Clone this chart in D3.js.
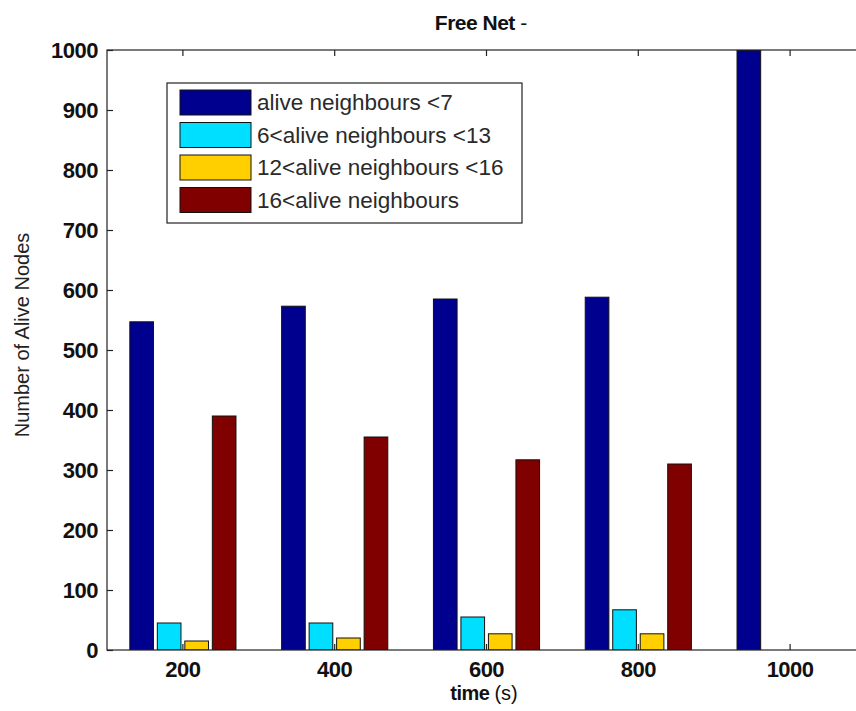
<!DOCTYPE html>
<html>
<head>
<meta charset="utf-8">
<script src="https://cdn.jsdelivr.net/npm/d3@7"></script>
<style>
body { margin: 0; background: #fff; }
svg { display: block; }
.tick text { font-family: "Liberation Sans", Arial, sans-serif; font-weight: bold; font-size: 22px; fill: #111; letter-spacing: -0.5px; }
.tick line { stroke: #222; }
.domain { display: none; }
</style>
</head>
<body>
<script>
var categories = ['200', '400', '600', '800', '1000'];
var seriesNames = ['alive neighbours <7', '6<alive neighbours <13', '12<alive neighbours <16', '16<alive neighbours'];
var aliveLt7 = [547, 573, 585, 588, 1000];
var alive6to13 = [45, 45, 55, 67, 0];
var alive12to16 = [15, 20, 27, 27, 0];
var aliveGt16 = [390, 355, 317, 310, 0];
var yTicks = [0, 100, 200, 300, 400, 500, 600, 700, 800, 900, 1000];
var seriesColors = ['#00008f', '#00dfff', '#ffcf00', '#800000'];

var chartWidth = 856;
var chartHeight = 711;
// plot box, right edge falls outside the window like in the original
var plotLeft = 107, plotRight = 866, plotTop = 50, plotBottom = 650;

var series = [aliveLt7, alive6to13, alive12to16, aliveGt16];

var svg = d3.select('body').append('svg')
    .attr('width', chartWidth)
    .attr('height', chartHeight);

var x0 = d3.scaleBand().domain(categories).range([plotLeft, plotRight]).padding(0);
var x1 = d3.scaleBand().domain(d3.range(series.length))
    .range([x0.bandwidth() / 2 - 55, x0.bandwidth() / 2 + 55])
    .paddingInner(0.14).paddingOuter(0.07);
var y = d3.scaleLinear().domain([0, 1000]).range([plotBottom, plotTop]);

//clip so bars don't spill over the box
svg.append('clipPath').attr('id', 'plotclip')
    .append('rect').attr('x', plotLeft).attr('y', plotTop)
    .attr('width', plotRight - plotLeft).attr('height', plotBottom - plotTop);

var groups = svg.append('g').attr('clip-path', 'url(#plotclip)')
    .selectAll('g').data(categories).enter().append('g')
    .attr('transform', function (d) { return 'translate(' + x0(d) + ',0)'; });

groups.selectAll('rect')
    .data(function (d, i) {
        return series.map(function (s, k) { return {k: k, v: s[i]}; })
            .filter(function (b) { return b.v > 0; });
    })
    .enter().append('rect')
    .attr('x', function (d) { return x1(d.k); })
    .attr('width', x1.bandwidth())
    .attr('y', function (d) { return y(d.v); })
    .attr('height', function (d) { return y(0) - y(d.v); })
    .attr('fill', function (d) { return seriesColors[d.k]; })
    .attr('stroke', '#111')
    .attr('stroke-width', 1);

// box around the axes
svg.append('rect')
    .attr('x', plotLeft).attr('y', plotTop)
    .attr('width', plotRight - plotLeft).attr('height', plotBottom - plotTop)
    .attr('fill', 'none').attr('stroke', '#222').attr('stroke-width', 1.2);

// axes, ticks pointing inward like matlab
svg.append('g').attr('transform', 'translate(0,' + plotBottom + ')')
    .call(d3.axisBottom(x0).tickSize(-6).tickPadding(11));
svg.append('g').attr('transform', 'translate(0,' + plotTop + ')')
    .call(d3.axisTop(x0).tickSize(-6).tickFormat(''));
svg.append('g').attr('transform', 'translate(' + plotLeft + ',0)')
    .call(d3.axisLeft(y).tickValues(yTicks).tickSize(-6).tickPadding(9).tickFormat(d3.format('d')));
svg.append('g').attr('transform', 'translate(' + plotRight + ',0)')
    .call(d3.axisRight(y).tickValues(yTicks).tickSize(-6).tickFormat(''));

svg.selectAll('.tick line').attr('stroke-width', 1.2);

// title
var title = svg.append('text')
    .attr('x', 481).attr('y', 30)
    .attr('text-anchor', 'middle')
    .style('font-family', '"Liberation Sans", Arial, sans-serif')
    .style('font-size', '21px')
    .attr('fill', '#111');
title.append('tspan').style('font-weight', 'bold').style('letter-spacing', '-0.5px').text('Free Net ');
title.append('tspan').text('-');

// x label
var xlab = svg.append('text')
    .attr('x', 484).attr('y', 700)
    .attr('text-anchor', 'middle')
    .style('font-family', '"Liberation Sans", Arial, sans-serif')
    .style('font-size', '20px')
    .attr('fill', '#111');
xlab.append('tspan').style('font-weight', 'bold').style('letter-spacing', '-0.5px').text('time ');
xlab.append('tspan').text('(s)');

// y label
svg.append('text')
    .attr('transform', 'translate(29,335) rotate(-90)')
    .attr('text-anchor', 'middle')
    .style('font-family', '"Liberation Sans", Arial, sans-serif')
    .style('font-size', '20px')
    .attr('fill', '#222')
    .text('Number of Alive Nodes');

// legend
var legend = svg.append('g');
legend.append('rect')
    .attr('x', 167).attr('y', 83).attr('width', 355).attr('height', 140)
    .attr('fill', '#fff').attr('stroke', '#222').attr('stroke-width', 1.2);

var items = legend.selectAll('g.item').data(seriesNames).enter().append('g')
    .attr('class', 'item')
    .attr('transform', function (d, i) { return 'translate(0,' + (90 + i * 32.5) + ')'; });
items.append('rect')
    .attr('x', 180).attr('y', 0).attr('width', 71).attr('height', 25)
    .attr('fill', function (d, i) { return seriesColors[i]; })
    .attr('stroke', '#111').attr('stroke-width', 1);
items.append('text')
    .attr('x', 257).attr('y', 12.5).attr('dy', '0.35em')
    .style('font-family', '"Liberation Sans", Arial, sans-serif')
    .style('font-size', '22.5px')
    .attr('fill', '#2a2a2a')
    .text(function (d) { return d; });
</script>
</body>
</html>
